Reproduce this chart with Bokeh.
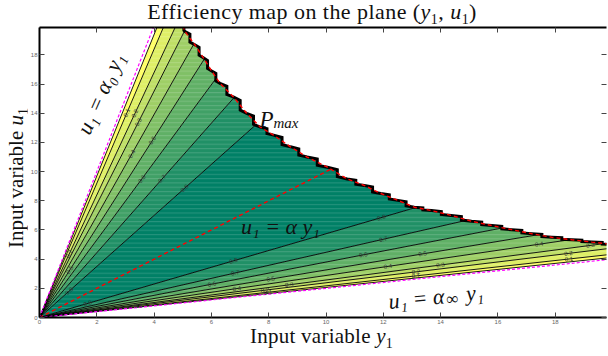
import math
from bokeh.plotting import figure
from bokeh.models import LinearAxis, Label, FixedTicker, Range1d, Div
from bokeh.layouts import column, row
from bokeh.embed import file_html
from bokeh.resources import INLINE
from bokeh.core.properties import value

# ---------------------------------------------------------------- data
# efficiency levels and the ratio u1/y1 at which each level is crossed,
# below the optimum ratio (low side) and above it (high side)
levels = [0.1, 0.2, 0.3, 0.4, 0.5, 0.6, 0.7, 0.8]
ratio_low = [0.217, 0.238, 0.257, 0.288, 0.326, 0.38, 0.447, 0.574]
ratio_high = [4.6, 4.2, 3.88, 3.48, 3.08, 2.66, 2.22, 1.75]

# limits of the admissible region (zero efficiency) and reference lines
edge_low = 0.206
edge_high = 4.85
alpha_inf = 0.2
alpha_0 = 5.0
alpha_opt = 1.0

# maximum power boundary P_max, sampled along y1
pmax_y1 = [5.00, 5.08, 5.42, 5.72, 6.01, 6.30, 6.78, 7.23, 7.71, 8.17, 8.76, 9.34,
           10.05, 10.74, 11.34, 11.91, 12.51, 13.08, 13.68, 14.37, 15.08, 15.79,
           16.48, 17.19, 17.88, 18.58, 19.28, 20.0]
pmax_u1 = [20.0, 19.6, 18.7, 17.8, 16.9, 16.05, 15.1, 14.0, 13.05, 12.5, 11.7, 11.0,
           10.3, 9.5, 9.05, 8.5, 8.03, 7.56, 7.33, 7.0, 6.6, 6.3, 6.02, 5.74, 5.5,
           5.33, 5.17, 5.01]

grid_y1_max = 20.0
grid_u1_max = 20.0

# inline contour labels: (side, level index, y1 position)
label_side = ["hi"] * 11 + ["lo"] * 22
label_level = [0, 1, 2, 3, 4, 5, 6, 7, 1, 4, 7,
               7, 7, 6, 6, 5, 5, 4, 4, 3, 3, 3, 2, 2, 2, 1, 1, 1, 0, 0, 0, 7, 1]
label_y1 = [3.05, 3.33, 3.45, 3.22, 3.94, 3.57, 4.28, 5.06, 1.04, 1.06, 1.04,
            6.77, 11.93, 6.83, 12.0, 6.02, 11.3, 8.07, 13.37, 6.89, 12.16, 17.44,
            8.71, 13.99, 19.23, 7.87, 13.14, 18.46, 7.97, 13.14, 18.48, 1.68, 3.44]

x_ticks = [0, 2, 4, 6, 8, 10, 12, 14, 16, 18]
y_ticks = [0, 2, 4, 6, 8, 10, 12, 14, 16, 18]

# ---------------------------------------------------------------- layout
W, H = 608, 356
TITLE_H = 25          # title strip above the plot
YL_W = 27             # strip holding the vertical axis title
XL_H = 28             # strip holding the horizontal axis title
PW, PH = W - YL_W, H - TITLE_H - XL_H
B_LEFT, B_RIGHT, B_TOP, B_BOTTOM = 10, 2, 2, 11
X_END, Y_END = 19.79, 19.88
sx = (PW - B_LEFT - B_RIGHT) / X_END
sy = (PH - B_TOP - B_BOTTOM) / Y_END


def band_color(k, n=8):
    # reversed "summer" map: yellow at low efficiency, teal at high
    t = 1.0 - k / n
    return "#%02x%02x%02x" % (int(round(255 * t)), int(round(128 + 127 * t)), 102)


# ---------------------------------------------------------------- region
def jagged(xs, ys):
    # notched edge between successive samples, as left by a gridded contour fill
    pts = [(xs[0], ys[0])]
    for i in range(1, len(xs)):
        dx, dy = xs[i] - xs[i - 1], ys[i] - ys[i - 1]
        xm = xs[i - 1] + 0.5 * dx
        pts.append((xm, ys[i - 1] + 0.2 * dy))
        pts.append((xm, ys[i - 1] + 0.8 * dy))
        pts.append((xs[i], ys[i]))
    return pts


stairs = jagged(pmax_y1[::-1], pmax_u1[::-1])
boundary = ([(grid_y1_max, edge_low * grid_y1_max)] + stairs +
            [(grid_u1_max / edge_high, grid_u1_max)])


def hit(r):
    for i in range(len(boundary) - 1):
        (xa, ya), (xb, yb) = boundary[i], boundary[i + 1]
        fa, fb = ya - r * xa, yb - r * xb
        if (fa <= 1e-12 and fb > 0) or (fa < 0 and fb >= -1e-12):
            t = fa / (fa - fb) if fa != fb else 0.0
            return i, (xa + t * (xb - xa), ya + t * (yb - ya))
    return len(boundary) - 2, boundary[-1]


def wedge(ra, rb):
    ia, pa = hit(ra)
    ib, pb = hit(rb)
    pts = [(0.0, 0.0), pa] + boundary[ia + 1: ib + 1] + [pb]
    return [q[0] for q in pts], [q[1] for q in pts]


breaks = [edge_low] + ratio_low + ratio_high[::-1] + [edge_high]
nb = len(breaks) - 1
band_xs, band_ys, band_cols = [], [], []
for j in range(nb):
    xs, ys = wedge(breaks[j], breaks[j + 1])
    band_xs.append(xs)
    band_ys.append(ys)
    band_cols.append(band_color(min(j, nb - 1 - j)))

# ---------------------------------------------------------------- figure
p = figure(width=PW, height=PH, x_range=Range1d(0, X_END), y_range=Range1d(0, Y_END),
           output_backend="svg", toolbar_location=None,
           min_border_left=B_LEFT, min_border_right=B_RIGHT,
           min_border_top=B_TOP, min_border_bottom=B_BOTTOM, margin=(0, 0, 0, 0))
p.grid.visible = False
p.outline_line_color = None
p.background_fill_color = "white"
p.border_fill_color = "white"

p.patches(band_xs, band_ys, fill_color=band_cols, line_color=None,
          hatch_pattern="horizontal_line", hatch_color="white",
          hatch_alpha=0.16, hatch_scale=4.3, hatch_weight=1)

# contour lines (including the zero-efficiency edges)
c_ratios = [edge_low] + ratio_low + ratio_high + [edge_high]
ends = [hit(r)[1] for r in c_ratios]
p.segment(x0=[0.0] * len(ends), y0=[0.0] * len(ends),
          x1=[e[0] for e in ends], y1=[e[1] for e in ends],
          line_color="black", line_width=0.9)

# jagged P_max edge and its smooth trace
p.line([s[0] for s in stairs], [s[1] for s in stairs], line_color="black",
       line_width=3.0, line_join="miter")
p.line(pmax_y1, pmax_u1, line_color="red", line_width=1.4, line_dash="4 3")

# optimum ratio line
opt_end = hit(alpha_opt)[1]
p.line([0.0, opt_end[0]], [0.0, opt_end[1]], line_color="red", line_width=1.4,
       line_dash="4 3")

# limiting ratio lines
p.line([0.0, grid_u1_max / alpha_0], [0.0, grid_u1_max], line_color="magenta",
       line_width=1.2, line_dash="3 2")
p.line([0.0, grid_y1_max], [0.0, alpha_inf * grid_y1_max], line_color="magenta",
       line_width=1.2, line_dash="3 2")

# inline level labels
lx, ly, lt, la = [], [], [], []
for side, k, y1 in zip(label_side, label_level, label_y1):
    r = ratio_high[k] if side == "hi" else ratio_low[k]
    lx.append(y1)
    ly.append(r * y1)
    lt.append("%.1f" % levels[k])
    la.append(math.atan(r * sy / sx))
p.text(x=lx, y=ly, text=lt, angle=la, text_font=value("Liberation Sans"),
       text_font_size="6px", text_color="#333333", text_align="center",
       text_baseline="middle")

# ---------------------------------------------------------------- axes
def style_axis(ax, ticks, show_labels=True, line=True):
    ax.ticker = FixedTicker(ticks=ticks)
    ax.major_tick_in = 5
    ax.major_tick_out = 0
    ax.minor_tick_line_color = None
    ax.major_tick_line_color = "#444444"
    ax.major_tick_line_width = 1
    ax.axis_line_color = "black" if line else None
    ax.axis_line_width = 2
    ax.major_label_text_font = "Liberation Sans"
    if show_labels:
        ax.major_label_text_font_size = "6px"
        ax.major_label_text_color = "#666666"
        ax.major_label_standoff = 2
    else:
        ax.major_label_text_font_size = "1px"
        ax.major_label_text_color = None
        ax.major_label_standoff = 0


top_axis = LinearAxis()
right_axis = LinearAxis()
p.add_layout(top_axis, "above")
p.add_layout(right_axis, "right")
style_axis(p.below[0], x_ticks)
style_axis(top_axis, x_ticks, show_labels=False)
style_axis(p.left[0], y_ticks)
style_axis(right_axis, y_ticks, show_labels=False, line=False)

# ---------------------------------------------------------------- in-plot texts
SERIF = "Liberation Serif"


def put(px, py, text, size, style="normal", align="left", angle=0.0,
        baseline="alphabetic"):
    # px, py: page pixels from the top-left corner
    p.add_layout(Label(x=px - YL_W, y=py - TITLE_H, x_units="canvas", y_units="canvas",
                       text=text, text_font=SERIF,
                       text_font_size="%dpx" % size, text_font_style=style,
                       text_align=align, text_baseline=baseline, angle=angle,
                       text_color="#111111"))


# P_max
put(259, 119, "P", 23, style="italic")
put(273, 122, "max", 15, style="italic")

# optimum line annotation
put(280, 226, "u\u2081 = \u03b1 y\u2081", 22, style="italic", align="center")

# upper limit annotation
th0 = math.radians(66)
put(100, 93, "u\u2081 = \u03b1\u2080 y\u2081", 22, style="italic", align="center",
    angle=th0, baseline="middle")

# lower limit annotation, composed along a tilted baseline
thi = math.atan(alpha_inf * sy / sx)
bx, by = 388, 301
put(bx, by, "u\u2081 = \u03b1", 22, style="italic", angle=thi)
d1 = 58
put(bx + d1 * math.cos(thi), by - d1 * math.sin(thi) + 4, "\u221e", 17, angle=thi)
d2 = 78
put(bx + d2 * math.cos(thi), by - d2 * math.sin(thi), "y\u2081", 22,
    style="italic", angle=thi)

# ---------------------------------------------------------------- titles
FONT = "font-family:'Liberation Serif',serif;color:#111;white-space:nowrap;"
SUB = "font-size:14px;position:relative;top:5px;font-style:normal;"

title_div = Div(
    width=W, height=TITLE_H, margin=(0, 0, 0, 0),
    text=("<div style=\"" + FONT + "font-size:22px;line-height:22px;width:%dpx;"
          "text-align:center;position:relative;left:8px;top:1px;letter-spacing:0.45px\">"
          "Efficiency map on the plane (<i>y</i><span style=\"%s\">1</span>, "
          "<i>u</i><span style=\"%s\">1</span>)</div>") % (W, SUB, SUB))

xlabel_div = Div(
    width=W, height=XL_H, margin=(0, 0, 0, 0),
    text=("<div style=\"" + FONT + "font-size:21px;line-height:16px;"
          "position:relative;left:250px;top:0px;letter-spacing:0.25px\">"
          "Input variable <i>y</i><span style=\"%s\">1</span></div>") % SUB)

ylabel_div = Div(
    width=YL_W, height=PH, margin=(0, 0, 0, 0),
    text=("<div style=\"position:relative;width:%dpx;height:%dpx\">"
          "<div style=\"" + FONT + "font-size:21px;line-height:21px;position:absolute;"
          "left:6px;top:%dpx;transform-origin:0 0;transform:rotate(-90deg)\">"
          "Input variable <i>u</i><span style=\"%s\">1</span></div></div>")
    % (YL_W, PH, 248 - TITLE_H, SUB))

layout = column(title_div, row(ylabel_div, p, spacing=0), xlabel_div, spacing=0)

open("out.html", "w").write(file_html(layout, INLINE))
